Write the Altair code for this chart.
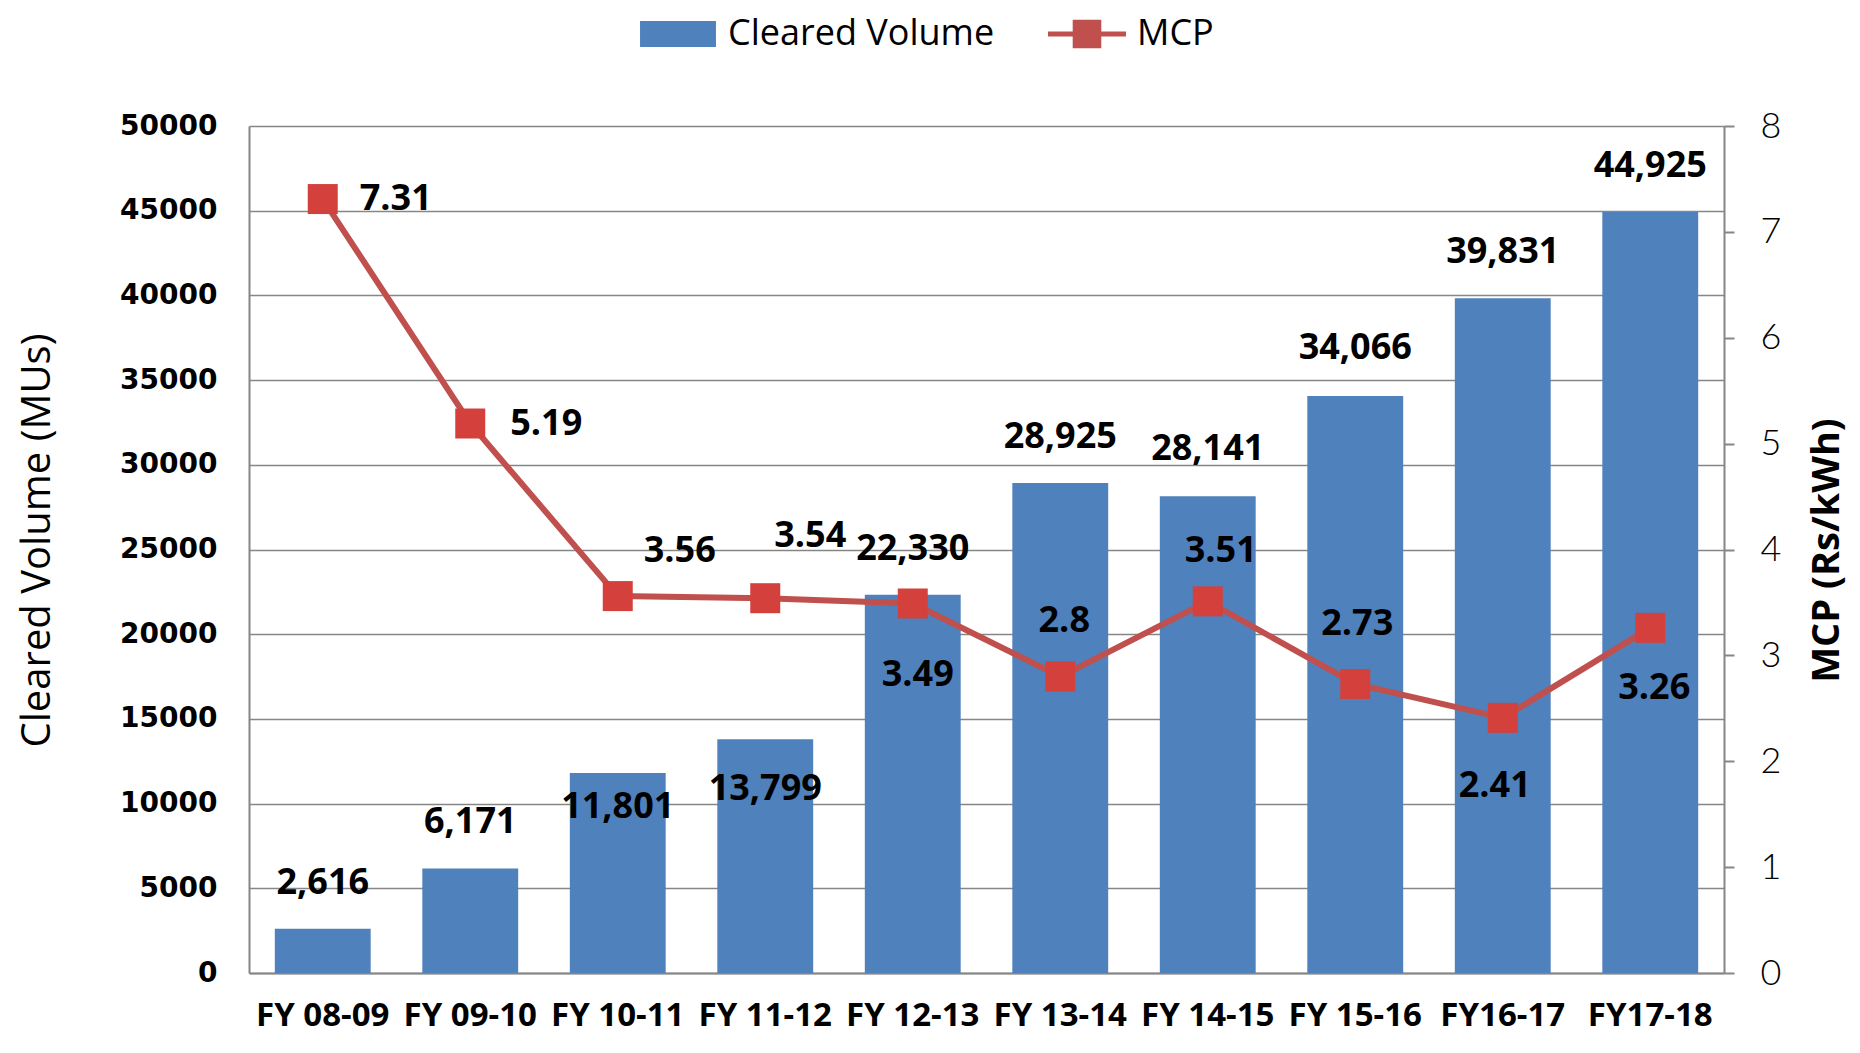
import altair as alt
import pandas as pd

# ---------------- data ----------------
categories = ["FY 08-09", "FY 09-10", "FY 10-11", "FY 11-12", "FY 12-13",
              "FY 13-14", "FY 14-15", "FY 15-16", "FY16-17", "FY17-18"]
cleared_volume = [2616, 6171, 11801, 13799, 22330, 28925, 28141, 34066, 39831, 44925]
mcp = [7.31, 5.19, 3.56, 3.54, 3.49, 2.8, 3.51, 2.73, 2.41, 3.26]
volume_ticks = [0, 5000, 10000, 15000, 20000, 25000, 30000, 35000, 40000, 45000, 50000]
mcp_ticks = [0, 1, 2, 3, 4, 5, 6, 7, 8]
series_names = ["Cleared Volume", "MCP"]

# ---------------- label placement (pixel offsets, style only) ----------------
volume_label_dy = [-46, -46, 34, 50, -46, -46, -47, -48, -46, -46]
mcp_label_dx = [73, 76, 62, 45, 5, 4, 13, 2, -8, 4]
mcp_label_dy = [0, 0, -45, -62, 72, -56, -50, -60, 68, 60]

BAR_BLUE = "#4F81BD"
LINE_RED = "#C0504D"
MARK_RED = "#D4403B"
GRID = "#868686"

df = pd.DataFrame({"category": categories, "volume": cleared_volume, "mcp": mcp})
legend_df = pd.DataFrame({"series": series_names})

x_enc = alt.X(
    "category:N", sort=categories,
    scale=alt.Scale(paddingInner=0.35, paddingOuter=0.175),
    axis=alt.Axis(orient="bottom", labelAngle=0, labelFont="Open Sans", labelFontWeight="bold",
                  labelFontSize=33, labelColor="black", labelPadding=26, ticks=False,
                  domainColor=GRID, domainWidth=2, title=None, labelOverlap=False, labelLimit=0),
)

y_vol = alt.Y(
    "volume:Q", scale=alt.Scale(domain=[0, 50000], nice=False),
    axis=alt.Axis(orient="left", values=volume_ticks, format="d", grid=True, gridColor=GRID,
                  gridWidth=1.5, domainColor=GRID, domainWidth=2, ticks=False,
                  labelFont="DejaVu Sans", labelFontWeight="bold", labelFontSize=28,
                  labelColor="black", labelPadding=32,
                  title="Cleared Volume (MUs)", titleFont="Open Sans", titleFontSize=40,
                  titleFontWeight="normal", titleColor="black", titleAngle=270,
                  titleX=-212, titleY=414, titleAlign="center", titleBaseline="middle"),
)

y_mcp = alt.Y(
    "mcp:Q", scale=alt.Scale(domain=[0, 8], nice=False),
    axis=alt.Axis(orient="right", values=mcp_ticks, format="d", grid=False, domainColor=GRID,
                  domainWidth=2, tickColor=GRID, tickWidth=2, tickSize=10,
                  labelFont="Lato", labelFontWeight=300, labelFontSize=36, labelColor="black",
                  labelPadding=26,
                  title="MCP (Rs/kWh)", titleFont="Open Sans", titleFontSize=38,
                  titleFontWeight="bold", titleColor="black", titleAngle=270,
                  titleX=103, titleY=424, titleAlign="center", titleBaseline="middle"),
)

base = alt.Chart(df)

bars = base.mark_bar(color=BAR_BLUE).encode(x=x_enc, y=y_vol)

bar_labels = []
for i, cat in enumerate(categories):
    bar_labels.append(
        base.transform_filter(alt.datum.category == cat)
        .mark_text(font="Open Sans", fontWeight="bold", fontSize=36, color="black",
                   align="center", baseline="middle", dy=volume_label_dy[i])
        .encode(x=x_enc, y=y_vol, text=alt.Text("volume:Q", format=",d"))
    )

vol_layer = alt.layer(bars, *bar_labels)

line = base.mark_line(color=LINE_RED, strokeWidth=6).encode(x=x_enc, y=y_mcp)
points = base.mark_point(shape="square", filled=True, size=900, color=MARK_RED, opacity=1).encode(
    x=x_enc, y=y_mcp)

mcp_labels = []
for i, cat in enumerate(categories):
    mcp_labels.append(
        base.transform_filter(alt.datum.category == cat)
        .mark_text(font="Open Sans", fontWeight="bold", fontSize=36, color="black",
                   align="center", baseline="middle", dx=mcp_label_dx[i], dy=mcp_label_dy[i])
        .encode(x=x_enc, y=y_mcp, text=alt.Text("mcp:Q", format=".3~g"))
    )

mcp_layer = alt.layer(line, points, *mcp_labels)

rect_path = "M-1.46,-0.5H1.46V0.5H-1.46Z"
mcp_path = "M-1.5,-0.1H1.5V0.1H-1.5Z M-0.55,-0.55H0.55V0.55H-0.55Z"

legend_spec = alt.Legend(
    title=None, orient="none", legendX=403, legendY=-118, direction="horizontal",
    symbolSize=2704, symbolOpacity=1, symbolStrokeWidth=0,
    labelFont="Open Sans", labelFontSize=36, labelColor="black", labelOffset=24,
    columnPadding=53, padding=0, labelLimit=0, labelBaseline="middle",
)

legend_layer = alt.Chart(legend_df).mark_point(filled=True, opacity=0).encode(
    color=alt.Color("series:N", scale=alt.Scale(domain=series_names, range=[BAR_BLUE, LINE_RED]),
                    legend=legend_spec),
    shape=alt.Shape("series:N", scale=alt.Scale(domain=series_names, range=[rect_path, mcp_path]),
                    legend=legend_spec),
)

chart = (
    alt.layer(vol_layer, mcp_layer, legend_layer)
    .resolve_scale(y="independent")
    .properties(
        width=1475, height=847,
        padding={"left": 241, "top": 118, "right": 128, "bottom": 64},
        autosize=alt.AutoSizeParams(type="none"),
        background="white",
    )
    .configure_view(stroke=None)
)

chart.save("out.html", embed_options={"renderer": "svg", "actions": False})
